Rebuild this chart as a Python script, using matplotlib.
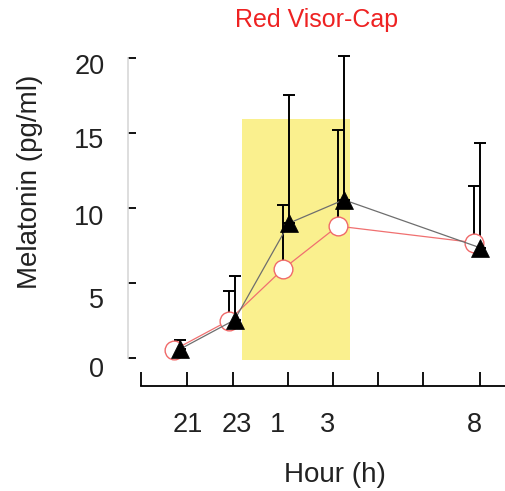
import numpy as np
import matplotlib
matplotlib.use("Agg")
import matplotlib.pyplot as plt

plt.rcParams['font.family'] = ['Liberation Sans', 'DejaVu Sans']

# -------------------------------
# Data
# -------------------------------
hours = [21, 23, 25, 27, 32]
hour_labels = ['21', '23', '1', '3', '8']

circle_mean = [0.55, 2.5, 5.95, 8.8, 7.7]
circle_err = [0.0, 1.95, 4.25, 6.4, 3.8]

triangle_mean = [0.6, 2.55, 9.0, 10.55, 7.35]
triangle_err = [0.6, 2.95, 8.5, 9.55, 7.0]

ytick_values = [0, 5, 10, 15, 20]
ytick_labels = ['0', '5', '10', '15', '20']

light_start, light_end = 23.27, 27.23
light_low, light_high = -0.13, 15.9

# -------------------------------
# Layout helpers (pixel based)
# -------------------------------
W, H = 505, 491
fig = plt.figure(figsize=(W / 100, H / 100), dpi=100)
ax = fig.add_axes([128 / W, 1 - 386 / H, 1 - 128 / W, (386 - 42) / H])

circle_dx = -0.22
cx = np.array(hours) + circle_dx
tx = np.array(hours, dtype=float)

# light period
ax.fill_between([light_start, light_end], light_low, light_high,
                color='#faf08e', lw=0, zorder=1)

# error bars (upper only)
ax.errorbar(cx, circle_mean, yerr=[np.zeros(5), circle_err], fmt='none',
            ecolor='black', elinewidth=1.4, capsize=4.5, capthick=1.4, zorder=2)
ax.errorbar(tx, triangle_mean, yerr=[np.zeros(5), triangle_err], fmt='none',
            ecolor='black', elinewidth=1.4, capsize=4.5, capthick=1.4, zorder=2)

# lines + markers
ax.plot(cx, circle_mean, color='#f07070', lw=0.9, zorder=3,
        marker='o', ms=13.5, mfc='white', mec='#f06a6a', mew=1.0)
ax.plot(tx, triangle_mean, color='#6e6e6e', lw=0.9, zorder=4,
        marker='^', ms=13.5, mfc='black', mec='black', mew=0.5)

ax.set_xlim(19.1, 32.9)
ax.set_ylim(-1.85, 21.06)

# spines
for s in ['top', 'right']:
    ax.spines[s].set_visible(False)
ax.spines['left'].set_bounds(0, 20)
ax.spines['left'].set_color('#d8d8d8')
ax.spines['left'].set_linewidth(1.2)
ax.spines['bottom'].set_bounds(19.57, 32.9)
ax.spines['bottom'].set_linewidth(1.3)

# x ticks: visible marks (minor) and labels (major, zero length)
xtick_marks = [19.57, 21.26, 22.94, 24.96, 26.60, 28.25, 29.90, 32.0]
xlabel_pos = [21.29, 23.09, 24.59, 26.42, 31.78]
ax.set_xticks(xtick_marks, minor=True)
ax.set_xticks(xlabel_pos)
ax.set_xticklabels(hour_labels)
ax.tick_params(axis='x', which='minor', direction='in', length=10, width=1.3)
ax.tick_params(axis='x', which='major', length=0, pad=19, labelsize=19.5,
               labelcolor='#222222')

# y ticks: marks at values, labels slightly below
ylabel_px = [366, 297, 213, 136.5, 62]
ylabel_pos = [(357 - p) / 15.05 for p in ylabel_px]
ax.set_yticks(ytick_values, minor=True)
ax.set_yticks(ylabel_pos)
ax.set_yticklabels(ytick_labels)
ax.tick_params(axis='y', which='minor', direction='in', length=6, width=1.3)
ax.tick_params(axis='y', which='major', length=0, pad=17, labelsize=19.5,
               labelcolor='#222222')

ax.set_title('Red Visor-Cap', color='#ee2222', fontsize=18, pad=11)

fig.text(30 / W, 1 - 182 / H, 'Melatonin (pg/ml)', rotation=90,
         ha='center', va='center', fontsize=20, color='#222222')
fig.text(335 / W, 1 - 482 / H, 'Hour (h)', ha='center', va='baseline',
         fontsize=20, color='#222222')

fig.savefig('out.png', dpi=100)
